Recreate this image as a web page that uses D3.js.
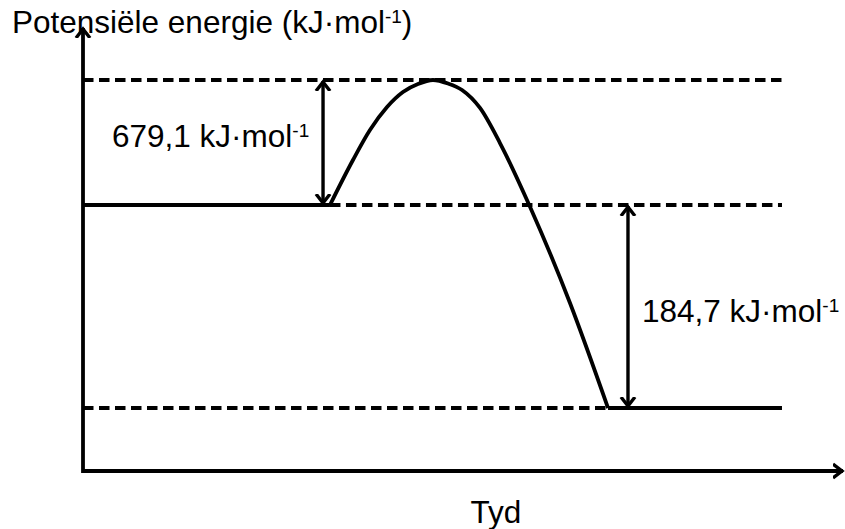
<!DOCTYPE html>
<html><head><meta charset="utf-8">
<script src="https://cdn.jsdelivr.net/npm/d3@7"></script>
<style>body{margin:0;background:#fff}svg{display:block}</style></head>
<body><svg id="c" width="845" height="529"></svg>
<script>
// Schematic energy diagram values (arbitrary drawing units 0..100)
const levelNames   = ["Oorgangstoestand", "Reaktante", "Produkte"];
const levelEnergy  = [88.06, 59.91, 14.19];
const levelSolid   = [[0, 0], [0, 32.41], [68.90, 91.73]];     // solid x-spans
const levelDashed  = [[0, 91.73], [32.41, 91.73], [0, 68.90]]; // dashed x-spans

const curveX = [32.41, 35.43, 37.66, 39.90, 41.99, 43.96, 45.93, 47.90, 49.74, 52.10, 54.72, 58.66, 63.91, 68.90];
const curveY = [59.91, 70.05, 76.80, 81.98, 85.36, 87.16, 88.06, 87.27, 85.81, 81.76, 73.87, 59.53, 37.84, 14.19];

const deltaLabels = ["679,1 kJ·mol", "184,7 kJ·mol"];
const deltaX      = [31.50, 71.52];
const deltaFrom   = [59.91, 14.19];
const deltaTo     = [88.06, 59.91];

const yTitle = "Potensiële energie (kJ·mol";
const xTitle = "Tyd";

const W = 845, H = 529;
const svg = d3.select("#c");
const x = d3.scaleLinear().domain([0, 100]).range([83, 845]);
const y = d3.scaleLinear().domain([0, 100]).range([471, 27]);
const FONT = "'Liberation Sans', Arial, sans-serif";

// markers
const defs = svg.append("defs");
defs.append("marker").attr("id", "chev")
  .attr("markerUnits", "userSpaceOnUse")
  .attr("viewBox", "-10 -10 20 20")
  .attr("markerWidth", 20).attr("markerHeight", 20)
  .attr("refX", 0).attr("refY", 0)
  .attr("orient", "auto-start-reverse")
  .append("path").attr("d", "M-10,-7 L-1,0 L-10,7")
  .attr("fill", "none").attr("stroke", "#000").attr("stroke-width", 3.4)
  .attr("stroke-linejoin", "miter");

// Title (behind axis)
const t = svg.append("text").attr("x", 12).attr("y", 33)
  .attr("font-family", FONT).attr("font-size", 31.5).attr("fill", "#000");
t.append("tspan").text(yTitle);
t.append("tspan").attr("font-size", 19).attr("dy", -10).text("-1");
t.append("tspan").attr("font-size", 31.5).attr("dy", 10).text(")");

// Level lines
const lvl = svg.append("g").attr("stroke", "#000").attr("stroke-width", 3.8).attr("fill", "none");
levelEnergy.forEach((e, i) => {
  const s = levelSolid[i], d = levelDashed[i];
  if (s[1] > s[0]) lvl.append("line").attr("x1", x(s[0])).attr("x2", x(s[1])).attr("y1", y(e)).attr("y2", y(e));
  lvl.append("line").attr("x1", x(d[0])).attr("x2", x(d[1])).attr("y1", y(e)).attr("y2", y(e))
    .attr("stroke-dasharray", "10.5,5.5");
});

// Reaction curve
const pts = curveX.map((v, i) => [v, curveY[i]]);
svg.append("path").datum(pts)
  .attr("d", d3.line().x(d => x(d[0])).y(d => y(d[1])).curve(d3.curveMonotoneX))
  .attr("fill", "none").attr("stroke", "#000").attr("stroke-width", 3.8);

// Double arrows
deltaX.forEach((dx, i) => {
  svg.append("line").attr("x1", x(dx)).attr("x2", x(dx))
    .attr("y1", y(deltaFrom[i]) - 1).attr("y2", y(deltaTo[i]) + 1)
    .attr("stroke", "#000").attr("stroke-width", 3.4)
    .attr("marker-start", "url(#chev)").attr("marker-end", "url(#chev)");
});

// Delta labels
const labPos = [[112, 146.7], [642, 321.7]];
deltaLabels.forEach((l, i) => {
  const tx = svg.append("text").attr("x", labPos[i][0]).attr("y", labPos[i][1])
    .attr("font-family", FONT).attr("font-size", 31.5).attr("fill", "#000");
  tx.append("tspan").text(l);
  tx.append("tspan").attr("font-size", 19).attr("dy", -10).text("-1");
});

// Axes (no ticks), with arrow heads
const gx = svg.append("g").attr("transform", `translate(0,${y(0)})`)
  .call(d3.axisBottom(x).tickValues([]).tickSizeOuter(0));
gx.select(".domain").attr("stroke", "#000").attr("stroke-width", 3.8)
  .attr("d", `M${x(0)},0H${W - 2}`).attr("marker-end", "url(#chev)");
const gy = svg.append("g").attr("transform", `translate(${x(0)},0)`)
  .call(d3.axisLeft(y).tickValues([]).tickSizeOuter(0));
gy.select(".domain").attr("stroke", "#000").attr("stroke-width", 3.8)
  .attr("d", `M0,${y(0) + 1.9}V${y(100) + 1}`).attr("marker-end", "url(#chev)");

svg.append("text").attr("x", 496).attr("y", 522.7).attr("text-anchor", "middle")
  .attr("font-family", FONT).attr("font-size", 31.5).attr("fill", "#000").text(xTitle);
</script></body></html>
